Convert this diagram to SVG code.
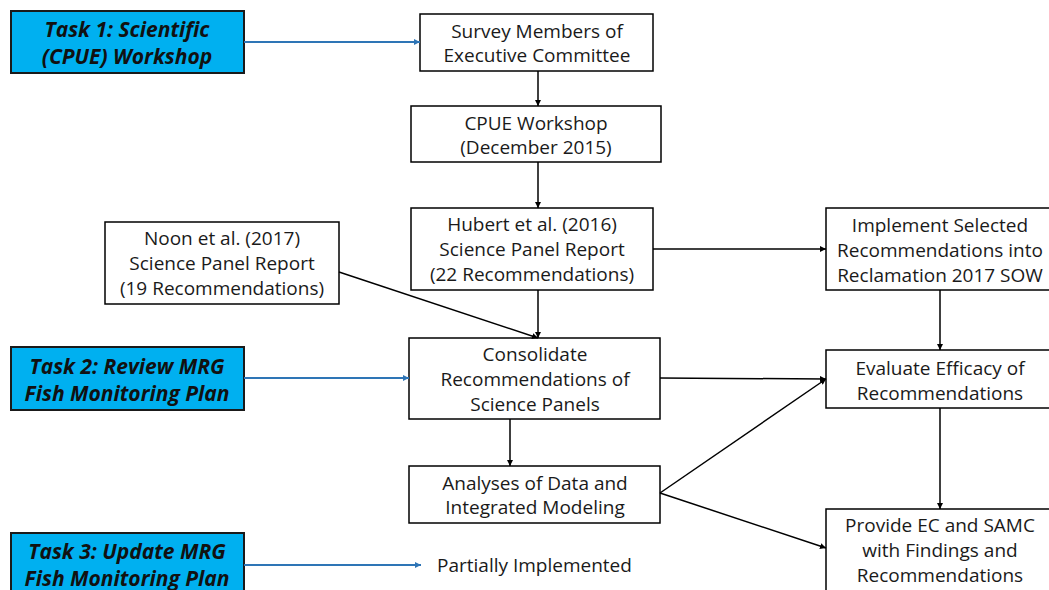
<svg xmlns="http://www.w3.org/2000/svg" width="1049" height="590" viewBox="0 0 1049 590">
<defs>
<marker id="ab" viewBox="0 0 10 10" refX="10" refY="5" markerWidth="6" markerHeight="6" orient="auto" markerUnits="userSpaceOnUse"><path d="M0,0 L10,5 L0,10 z" fill="#000"/></marker>
<marker id="abl" viewBox="0 0 10 10" refX="10" refY="5" markerWidth="6" markerHeight="6" orient="auto" markerUnits="userSpaceOnUse"><path d="M0,0 L10,5 L0,10 z" fill="#2E75B6"/></marker>
<style>
.box{fill:#fff;stroke:#000;stroke-width:1.5}
.task{fill:#00B0F0;stroke:#1a1a1a;stroke-width:2}
.t{font-family:"Open Sans","Liberation Sans",sans-serif;font-size:19px;fill:#1a1a1a;text-anchor:middle}
.tt{font-family:"Open Sans","Liberation Sans",sans-serif;font-size:21px;font-weight:bold;font-style:italic;fill:#111;text-anchor:middle}
.c{stroke:#000;stroke-width:1.5;fill:none;marker-end:url(#ab)}
.cb{stroke:#2E75B6;stroke-width:2;fill:none;marker-end:url(#abl)}
</style>
</defs>
<rect width="1049" height="590" fill="#fff"/>
<g id="task1"><rect class="task" x="11" y="11" width="233" height="62"/><text class="tt" x="127" y="37">Task 1: Scientific</text><text class="tt" x="127" y="64">(CPUE) Workshop</text></g>
<g id="task2"><rect class="task" x="11" y="347" width="233" height="63"/><text class="tt" x="127" y="374">Task 2: Review MRG</text><text class="tt" x="127" y="401">Fish Monitoring Plan</text></g>
<g id="task3"><rect class="task" x="11" y="533" width="233" height="62"/><text class="tt" x="127" y="559">Task 3: Update MRG</text><text class="tt" x="127" y="586">Fish Monitoring Plan</text></g>
<g id="survey"><rect class="box" x="420" y="14" width="233" height="57"/><text class="t" x="537" y="38">Survey Members of</text><text class="t" x="537" y="62">Executive Committee</text></g>
<g id="cpue"><rect class="box" x="411" y="106" width="250" height="56"/><text class="t" x="536" y="130">CPUE Workshop</text><text class="t" x="536" y="154">(December 2015)</text></g>
<g id="hubert"><rect class="box" x="411" y="208" width="242" height="82"/><text class="t" x="532" y="231">Hubert et al. (2016)</text><text class="t" x="532" y="256">Science Panel Report</text><text class="t" x="532" y="281">(22 Recommendations)</text></g>
<g id="noon"><rect class="box" x="105" y="222" width="234" height="82"/><text class="t" x="222" y="245">Noon et al. (2017)</text><text class="t" x="222" y="270">Science Panel Report</text><text class="t" x="222" y="295">(19 Recommendations)</text></g>
<g id="implement"><rect class="box" x="826" y="208" width="230" height="82"/><text class="t" x="940" y="232">Implement Selected</text><text class="t" x="940" y="257">Recommendations into</text><text class="t" x="940" y="282">Reclamation 2017 SOW</text></g>
<g id="consolidate"><rect class="box" x="409" y="338" width="251" height="81"/><text class="t" x="535" y="361">Consolidate</text><text class="t" x="535" y="386">Recommendations of</text><text class="t" x="535" y="411">Science Panels</text></g>
<g id="evaluate"><rect class="box" x="826" y="350" width="230" height="58"/><text class="t" x="940" y="375">Evaluate Efficacy of</text><text class="t" x="940" y="400">Recommendations</text></g>
<g id="analyses"><rect class="box" x="409" y="466" width="251" height="57"/><text class="t" x="535" y="490">Analyses of Data and</text><text class="t" x="535" y="514">Integrated Modeling</text></g>
<g id="provide"><rect class="box" x="826" y="509" width="230" height="90"/><text class="t" x="940" y="532">Provide EC and SAMC</text><text class="t" x="940" y="557">with Findings and</text><text class="t" x="940" y="582">Recommendations</text></g>
<g id="partial"><text class="t" x="437" y="572" style="text-anchor:start">Partially Implemented</text></g>
<g id="connectors">
<line class="cb" x1="244" y1="42" x2="420" y2="42"/>
<line class="cb" x1="244" y1="378" x2="409" y2="378"/>
<line class="cb" x1="244" y1="565" x2="421" y2="565"/>
<line class="c" x1="538" y1="71" x2="538" y2="106"/>
<line class="c" x1="538" y1="162" x2="538" y2="208"/>
<line class="c" x1="653" y1="249" x2="826" y2="249"/>
<line class="c" x1="538" y1="290" x2="538" y2="338"/>
<line class="c" x1="339" y1="272" x2="538" y2="338"/>
<line class="c" x1="660" y1="378" x2="826" y2="379"/>
<line class="c" x1="940" y1="290" x2="940" y2="350"/>
<line class="c" x1="510" y1="419" x2="510" y2="466"/>
<line class="c" x1="660" y1="493" x2="826" y2="379"/>
<line class="c" x1="660" y1="493" x2="826" y2="548"/>
<line class="c" x1="940" y1="408" x2="940" y2="509"/>
</g>
</svg>
